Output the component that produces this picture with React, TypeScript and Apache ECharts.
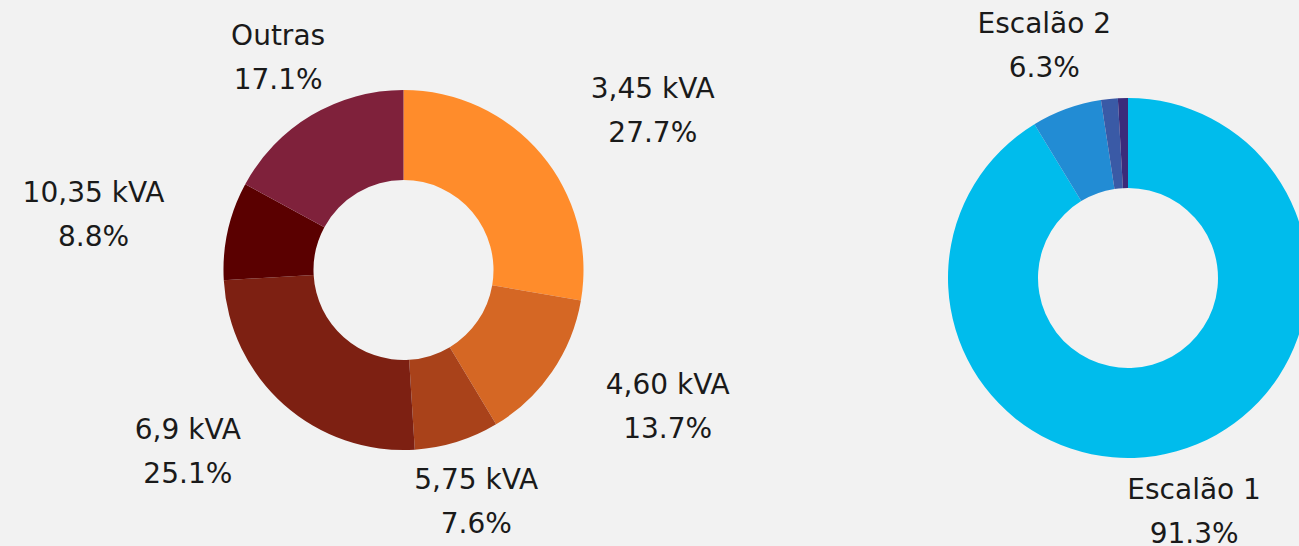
import React, { useEffect, useRef } from "react";
import * as echarts from "echarts";

const powerCategories = ["3,45 kVA", "4,60 kVA", "5,75 kVA", "6,9 kVA", "10,35 kVA", "Outras"];
const powerShares = [27.7, 13.7, 7.6, 25.1, 8.8, 17.1];
const powerColors = ["#FF8C2B", "#D56724", "#A9421A", "#7D2012", "#5A0000", "#7F213B"];

const tierCategories = ["Escalão 1", "Escalão 2", "Escalão 3", "Escalão 4"];
const tierShares = [91.3, 6.3, 1.5, 0.9];
const tierColors = ["#00BCEC", "#228CD4", "#3A5AA6", "#3B2B7A"];
const tierLabelShown = [true, true, false, false];

const LEFT_CENTER: [number, number] = [403.5, 270];
const RIGHT_CENTER: [number, number] = [1128, 278];
const OUTER_R = 180;
const INNER_R = 90;
const LABEL_R = 245;

function midAngles(values: number[]): number[] {
  const total = values.reduce((a, b) => a + b, 0);
  let acc = 0;
  return values.map((v) => {
    const m = ((acc + v / 2) / total) * Math.PI * 2;
    acc += v;
    return m;
  });
}

function makeLayout(values: number[], center: [number, number]) {
  const mids = midAngles(values);
  return (params: any) => {
    const a = mids[params.dataIndex];
    const s = Math.sin(a);
    const c = Math.cos(a);
    const ax = center[0] + LABEL_R * s;
    const ay = center[1] - LABEL_R * c - 2;
    const w = params.labelRect ? params.labelRect.width : 0;
    let x = ax;
    if (s > 0.6) x = ax + w / 2;
    else if (s < -0.6) x = ax - w / 2;
    return { x, y: ay, align: "center", verticalAlign: "middle" };
  };
}

const FONT = "DejaVu Sans";

export default function App() {
  const ref = useRef<HTMLDivElement>(null);
  useEffect(() => {
    if (!ref.current) return;
    const chart = echarts.init(ref.current, undefined, { renderer: "svg" });
    const labelStyle = {
      show: true,
      position: "outside",
      formatter: (p: any) => `${p.name}\n${p.value.toFixed(1)}%`,
      fontFamily: FONT,
      fontSize: 28,
      lineHeight: 44,
      color: "#1a1a1a",
      align: "center",
    };
    chart.setOption({
      animation: false,
      backgroundColor: "#F2F2F2",
      series: [
        {
          type: "pie",
          center: LEFT_CENTER,
          radius: [INNER_R, OUTER_R],
          startAngle: 90,
          clockwise: true,
          avoidLabelOverlap: false,
          label: labelStyle,
          labelLine: { show: false, length: 65, length2: 0 },
          labelLayout: makeLayout(powerShares, LEFT_CENTER),
          emphasis: { disabled: true },
          data: powerCategories.map((n, i) => ({
            name: n,
            value: powerShares[i],
            itemStyle: { color: powerColors[i] },
          })),
        },
        {
          type: "pie",
          center: RIGHT_CENTER,
          radius: [INNER_R, OUTER_R],
          startAngle: 90,
          clockwise: true,
          avoidLabelOverlap: false,
          label: labelStyle,
          labelLine: { show: false, length: 65, length2: 0 },
          labelLayout: makeLayout(tierShares, RIGHT_CENTER),
          emphasis: { disabled: true },
          data: tierCategories.map((n, i) => ({
            name: n,
            value: tierShares[i],
            itemStyle: { color: tierColors[i] },
            label: { show: tierLabelShown[i] },
          })),
        },
      ],
    });
    return () => chart.dispose();
  }, []);
  return (
    <div
      ref={ref}
      style={{ position: "fixed", left: 0, top: 0, width: 1299, height: 546 }}
    />
  );
}
